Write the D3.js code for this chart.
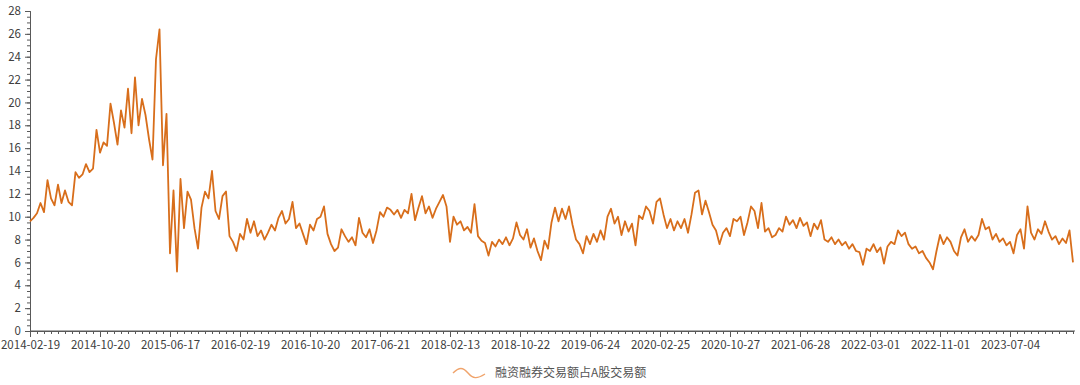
<!DOCTYPE html>
<html>
<head>
<meta charset="utf-8">
<script src="https://cdn.jsdelivr.net/npm/d3@7"></script>
<style>
  body { margin: 0; background: #fff; }
  svg text { font-family: "Noto Sans CJK SC", "Noto Sans", sans-serif; }
</style>
</head>
<body>
<script>
var config = {
    width: 1080,
    height: 385,
    left: 30,
    right: 1073,
    top: 11,
    bottom: 331,
}

// x axis labels, one every 160 trading days
var tickLabels = ['2014-02-19', '2014-10-20', '2015-06-17', '2016-02-19', '2016-10-20',
    '2017-06-21', '2018-02-13', '2018-10-22', '2019-06-24', '2020-02-25',
    '2020-10-27', '2021-06-28', '2022-03-01', '2022-11-01', '2023-07-04'];
var daysPerLabel = 160;
var daysPerSample = 8;

var seriesName = '融资融券交易额占A股交易额';

// ratio (%), one reading every 8 trading days
var values = [
    9.6, 9.9, 10.3, 11.2, 10.4, 13.2, 11.6, 11.0, 12.8, 11.2, 12.3, 11.3, 11.0, 13.9, 13.4, 13.7, 14.6, 13.9, 14.2, 17.6,
    15.6, 16.5, 16.2, 19.9, 18.2, 16.3, 19.3, 17.8, 21.2, 17.3, 22.2, 18.0, 20.3, 18.9, 16.8, 15.0, 23.8, 26.4, 14.5, 19.0,
    6.8, 12.3, 5.2, 13.3, 9.0, 12.2, 11.5, 9.0, 7.2, 10.8, 12.2, 11.6, 14.0, 10.5, 9.8, 11.8, 12.2, 8.3, 7.8, 7.0,
    8.5, 8.0, 9.8, 8.6, 9.6, 8.3, 8.8, 8.0, 8.6, 9.3, 8.8, 9.9, 10.5, 9.4, 9.8, 11.3, 9.0, 9.4, 8.5, 7.6,
    9.3, 8.8, 9.8, 10.0, 10.9, 8.5, 7.6, 7.0, 7.3, 8.9, 8.3, 7.8, 8.2, 7.5, 9.9, 8.6, 8.2, 8.9, 7.7, 8.8,
    10.4, 10.0, 10.8, 10.6, 10.2, 10.6, 9.9, 10.6, 10.3, 12.0, 9.7, 10.8, 11.8, 10.3, 10.9, 9.9, 10.7, 11.3, 11.9, 10.9,
    7.8, 10.0, 9.3, 9.6, 8.8, 9.1, 8.6, 11.1, 8.3, 7.9, 7.7, 6.6, 7.8, 7.4, 8.0, 7.6, 8.2, 7.5, 8.1, 9.5,
    8.4, 8.0, 8.9, 7.3, 8.1, 7.0, 6.2, 7.9, 7.2, 9.5, 10.8, 9.6, 10.7, 9.8, 10.9, 9.3, 8.0, 7.6, 6.8, 8.3,
    7.6, 8.5, 7.8, 8.8, 8.0, 10.0, 10.7, 9.4, 10.0, 8.4, 9.6, 8.7, 9.4, 7.5, 10.1, 9.8, 10.9, 10.5, 9.4, 11.3,
    11.6, 10.2, 9.0, 9.8, 8.8, 9.6, 9.0, 9.8, 8.6, 10.2, 12.1, 12.3, 10.2, 11.4, 10.4, 9.3, 8.8, 7.6, 8.6, 9.0,
    8.3, 9.8, 9.6, 10.0, 8.4, 9.5, 10.9, 10.5, 9.0, 11.2, 8.7, 9.0, 8.2, 8.4, 9.0, 8.7, 10.0, 9.3, 9.7, 9.0,
    9.9, 9.2, 9.5, 8.3, 9.4, 8.9, 9.7, 8.0, 7.8, 8.2, 7.6, 8.0, 7.5, 7.8, 7.2, 7.6, 7.0, 6.9, 5.8, 7.2,
    7.0, 7.6, 6.9, 7.3, 5.9, 7.4, 7.8, 7.6, 8.8, 8.3, 8.6, 7.6, 7.2, 7.4, 6.8, 7.0, 6.4, 6.0, 5.4, 7.0,
    8.4, 7.6, 8.2, 7.8, 7.0, 6.6, 8.2, 8.9, 7.8, 8.3, 7.9, 8.4, 9.8, 8.9, 9.1, 8.0, 8.5, 7.8, 8.1, 7.5,
    7.8, 6.8, 8.4, 8.9, 7.2, 10.9, 8.6, 8.0, 8.9, 8.5, 9.6, 8.7, 8.0, 8.3, 7.6, 8.1, 7.7, 8.8, 6.0
];

var lastDay = (values.length - 1) * daysPerSample;

var svg = d3.select('body').append('svg')
    .attr('width', config.width)
    .attr('height', config.height)

var x = d3.scaleLinear()
    .domain([0, lastDay])
    .range([config.left, config.right]);

var y = d3.scaleLinear()
    .domain([0, 28])
    .range([config.bottom, config.top]);

var majorX = tickLabels.map(function(d, i) { return i * daysPerLabel; });
var minorX = d3.range(0, lastDay + 1, daysPerLabel / 10);

// minor ticks first, majors drawn over them
svg.append('g')
    .attr('class', 'x-minor')
    .attr('transform', 'translate(0,' + config.bottom + ')')
    .call(d3.axisBottom(x).tickValues(minorX).tickSize(3).tickFormat(''));

var xAxis = svg.append('g')
    .attr('class', 'x-axis')
    .attr('transform', 'translate(0,' + config.bottom + ')')
    .call(d3.axisBottom(x)
        .tickValues(majorX)
        .tickSize(6)
        .tickPadding(4)
        .tickFormat(function(d, i) { return tickLabels[i]; }));

svg.append('g')
    .attr('class', 'y-minor')
    .attr('transform', 'translate(' + config.left + ',0)')
    .call(d3.axisLeft(y).tickValues(d3.range(0, 28.01, 0.5)).tickSize(3).tickFormat(''));

var yAxis = svg.append('g')
    .attr('class', 'y-axis')
    .attr('transform', 'translate(' + config.left + ',0)')
    .call(d3.axisLeft(y).tickValues(d3.range(0, 29, 2)).tickSize(5).tickPadding(4));

svg.selectAll('.domain').attr('stroke', '#595959').attr('stroke-width', 1);
svg.selectAll('.tick line').attr('stroke', '#595959');
svg.selectAll('.tick text')
    .attr('fill', '#404040')
    .style('font-size', '11.5px');
svg.selectAll('.x-axis .domain').attr('d', 'M' + config.left + ',0H' + (config.right + 2));

var line = d3.line()
    .x(function(d, i) { return x(i * daysPerSample); })
    .y(function(d) { return y(d); });

svg.append('path')
    .datum(values)
    .attr('fill', 'none')
    .attr('stroke', '#d86e1b')
    .attr('stroke-width', 1.8)
    .attr('stroke-linejoin', 'round')
    .attr('d', line);

// legend
var legend = svg.append('g').attr('transform', 'translate(453,373)');

legend.append('path')
    .attr('d', 'M0,0 C6,-6 10,-6 15,0 S24,6 32,1')
    .attr('fill', 'none')
    .attr('stroke', '#f0a46c')
    .attr('stroke-width', 1.4);

legend.append('text')
    .attr('x', 42)
    .attr('y', 4)
    .attr('fill', '#555')
    .style('font-size', '12px')
    .text(seriesName);
</script>
</body>
</html>
